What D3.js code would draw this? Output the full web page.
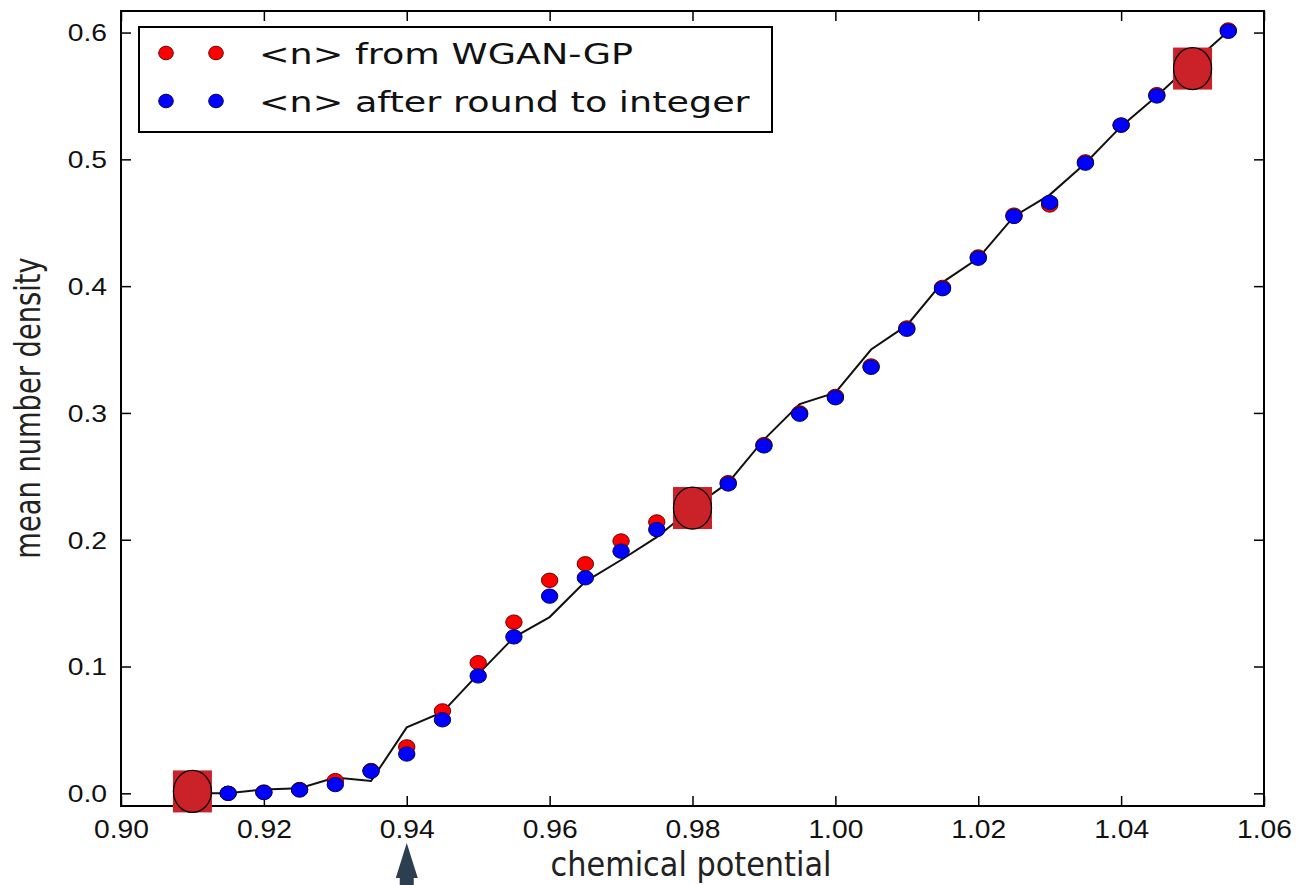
<!DOCTYPE html>
<html>
<head>
<meta charset="utf-8">
<script src="https://cdn.jsdelivr.net/npm/d3@7"></script>
<style>
  body { margin: 0; background: #fff; }
  svg { display: block; }
  .tick line { stroke: #000; stroke-width: 1.5; }
  .domain { display: none; }
</style>
</head>
<body>
<div class="wrapper"></div>
<script>
width = 1298;
height = 885;

/* data */
mu = [0.915, 0.92, 0.925, 0.93, 0.935, 0.94, 0.945, 0.95, 0.955, 0.96, 0.965, 0.97, 0.975, 0.98,
  0.985, 0.99, 0.995, 1.00, 1.005, 1.01, 1.015, 1.02, 1.025, 1.03, 1.035, 1.04, 1.045, 1.05, 1.055];
nWgan = [0.0, 0.001, 0.003, 0.010, 0.018, 0.0366, 0.065, 0.103, 0.135, 0.168, 0.181, 0.199, 0.214, 0.227,
  0.245, 0.275, 0.300, 0.313, 0.337, 0.367, 0.399, 0.423, 0.456, 0.464, 0.498, 0.527, 0.551, 0.572, 0.602];
nRound = [0.0, 0.0006, 0.0026, 0.0069, 0.0174, 0.031, 0.058, 0.0926, 0.1234, 0.1555, 0.170, 0.191, 0.208, 0.226,
  0.244, 0.274, 0.299, 0.312, 0.336, 0.366, 0.398, 0.422, 0.455, 0.466, 0.497, 0.527, 0.550, 0.572, 0.601];

muLine = [0.91, 0.915, 0.92, 0.925, 0.93, 0.935, 0.94, 0.945, 0.95, 0.955, 0.96, 0.965, 0.97, 0.975, 0.98,
  0.985, 0.99, 0.995, 1.00, 1.005, 1.01, 1.015, 1.02, 1.025, 1.03, 1.035, 1.04, 1.045, 1.05, 1.055];
nLine = [0.0, 0.0, 0.003, 0.004, 0.0125, 0.0097, 0.052, 0.064, 0.094, 0.123, 0.139, 0.167, 0.184, 0.202, 0.225,
  0.245, 0.279, 0.307, 0.316, 0.350, 0.369, 0.403, 0.422, 0.455, 0.472, 0.497, 0.526, 0.550, 0.576, 0.601];

// highlighted training points
trainMu = [0.91, 0.98, 1.05];
trainN = [0.0015, 0.225, 0.5716];

arrowMu = 0.94;

xTicks = [0.90, 0.92, 0.94, 0.96, 0.98, 1.00, 1.02, 1.04, 1.06];
yTicks = [0.0, 0.1, 0.2, 0.3, 0.4, 0.5, 0.6];

legendLabels = ["<n> from WGAN-GP", "<n> after round to integer"];
legendColors = ["#ff0000", "#0000ff"];

x = d3.scaleLinear().domain([0.90, 1.06]).range([121, 1264]);
y = d3.scaleLinear().domain([-0.01, 0.617]).range([806, 11]);

svg = d3.select(".wrapper")
  .append("svg")
  .attr("width", width)
  .attr("height", height)
  .style("font-family", "'DejaVu Sans', sans-serif");

svg.append("rect").attr("width", width).attr("height", height).attr("fill", "#fff");

/* Axes with inward ticks on all four sides */
bottomAxis = svg.append("g")
  .attr("transform", "translate(0," + y(-0.01) + ")")
  .call(d3.axisBottom(x).tickValues(xTicks).tickSize(-10).tickFormat(d3.format(".2f")));
bottomAxis.selectAll("text")
  .attr("y", 32).attr("dy", null)
  .attr("fill", "#111")
  .style("font-size", "25px")
  .attr("transform", "scale(1.13,1)");

svg.append("g")
  .attr("transform", "translate(0," + y(0.617) + ")")
  .call(d3.axisTop(x).tickValues(xTicks).tickSize(-10).tickFormat(""));

leftAxis = svg.append("g")
  .attr("transform", "translate(" + x(0.90) + ",0)")
  .call(d3.axisLeft(y).tickValues(yTicks).tickSize(-10).tickPadding(11.4).tickFormat(d3.format(".1f")));
leftAxis.selectAll("text")
  .attr("dy", "0.36em")
  .attr("fill", "#111")
  .style("font-size", "23px")
  .attr("transform", "scale(1.23,1)");

svg.append("g")
  .attr("transform", "translate(" + x(1.06) + ",0)")
  .call(d3.axisRight(y).tickValues(yTicks).tickSize(-10).tickFormat(""));

/* Frame */
svg.append("rect")
  .attr("x", x(0.90)).attr("y", y(0.617))
  .attr("width", x(1.06) - x(0.90)).attr("height", y(-0.01) - y(0.617))
  .attr("fill", "none").attr("stroke", "#000").attr("stroke-width", 2);

/* Axis titles */
svg.append("text")
  .attr("transform", "translate(691,876) scale(0.92,1)")
  .attr("text-anchor", "middle")
  .style("font-size", "33px")
  .attr("fill", "#222")
  .text("chemical potential");

svg.append("text")
  .attr("transform", "translate(40,408) rotate(-90) scale(0.78,1)")
  .attr("text-anchor", "middle")
  .style("font-size", "35px")
  .attr("fill", "#222")
  .text("mean number density");

/* Line */
line = d3.line()
  .x(function (d, i) { return x(muLine[i]) })
  .y(function (d) { return y(d) });

svg.append("path")
  .attr("d", line(nLine))
  .attr("fill", "none")
  .attr("stroke", "#111")
  .attr("stroke-width", 2);

/* Points */
svg.append("g").selectAll("ellipse")
  .data(nWgan)
  .enter().append("ellipse")
  .attr("cx", function (d, i) { return x(mu[i]) })
  .attr("cy", function (d) { return y(d) })
  .attr("rx", 8.2).attr("ry", 7.2)
  .attr("fill", "#ff0000")
  .attr("stroke", "#6a0000")
  .attr("stroke-width", 1);

svg.append("g").selectAll("ellipse")
  .data(nRound)
  .enter().append("ellipse")
  .attr("cx", function (d, i) { return x(mu[i]) })
  .attr("cy", function (d) { return y(d) })
  .attr("rx", 8.2).attr("ry", 7.2)
  .attr("fill", "#0000ff")
  .attr("stroke", "#000060")
  .attr("stroke-width", 1);

/* Highlight markers */
hl = svg.append("g").selectAll("g")
  .data(trainN)
  .enter().append("g")
  .attr("transform", function (d, i) { return "translate(" + x(trainMu[i]) + "," + y(d) + ")" });
hl.append("rect")
  .attr("x", -19.5).attr("y", -21).attr("width", 39).attr("height", 42)
  .attr("fill", "#cb2129");
hl.append("ellipse")
  .attr("rx", 19).attr("ry", 21)
  .attr("fill", "#cb2129")
  .attr("stroke", "#000").attr("stroke-width", 1.3);

/* Legend */
legend = svg.append("g");
legend.append("rect")
  .attr("x", 139).attr("y", 27).attr("width", 633).attr("height", 105)
  .attr("fill", "#fff").attr("stroke", "#000").attr("stroke-width", 2);

rows = legend.selectAll(".row")
  .data(legendLabels)
  .enter().append("g")
  .classed("row", true)
  .attr("transform", function (d, i) { return "translate(0," + (53 + i * 48) + ")" });
[166, 216].forEach(function (cx) {
  rows.append("ellipse")
    .attr("cx", cx).attr("cy", 0)
    .attr("rx", 7.3).attr("ry", 6.8)
    .attr("fill", function (d, i) { return legendColors[i] })
    .attr("stroke", function (d, i) { return i ? "#000060" : "#6a0000" })
    .attr("stroke-width", 1);
});
rows.append("text")
  .attr("transform", "translate(259,11) scale(1.26,1)")
  .style("font-size", "29px")
  .attr("fill", "#111")
  .text(function (d) { return d });

/* Arrow under 0.94 */
ax = x(arrowMu);
svg.append("path")
  .attr("d", "M" + ax + ",843 L" + (ax + 11) + ",878 L" + (ax + 7) + ",878 L" + (ax + 7) + ",886 L" + (ax - 7) + ",886 L" + (ax - 7) + ",878 L" + (ax - 11) + ",878 Z")
  .attr("fill", "#2c3e50");
</script>
</body>
</html>
